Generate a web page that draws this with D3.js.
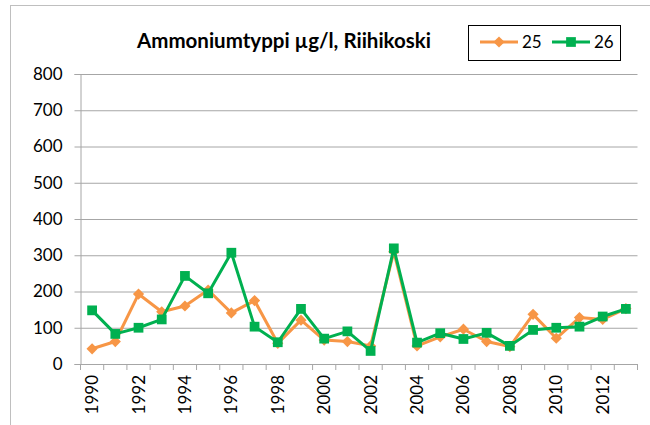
<!DOCTYPE html>
<html>
<head>
<meta charset="utf-8">
<script src="https://cdn.jsdelivr.net/npm/d3@7"></script>
<style>
  body { margin: 0; background: #fff; }
  svg text { font-family: Lato, "Liberation Sans", sans-serif; fill: #000; }
</style>
</head>
<body>
<svg id="chart" width="650" height="425"></svg>
<script>
/* data */
var years = d3.range(1990, 2014);
var s25 = [42, 62, 193, 144, 160, 204, 141, 175, 57, 121, 66, 62, 50,
           310, 50, 75, 96, 62, 48, 137, 71, 128, 123, 153];
var s26 = [148, 83, 100, 123, 243, 195, 307, 103, 60, 152, 70, 90, 36,
           319, 59, 85, 69, 86, 50, 94, 100, 103, 131, 152];
var yTicks = [0, 100, 200, 300, 400, 500, 600, 700, 800];
var xLabels = years.filter(function (d) { return d % 2 === 0; });

var title = "Ammoniumtyppi \u00b5g/l, Riihikoski";
var series = [
  { name: "25", values: s25, color: "#F79646", shape: "diamond" },
  { name: "26", values: s26, color: "#00B050", shape: "square" }
];

var svg = d3.select("#chart");
var margin = { left: 80.5, right: 12.5, top: 74, bottom: 61 };
var W = 650, H = 425;
var iw = W - margin.left - margin.right,
    ih = H - margin.top - margin.bottom;

/* outer chart border */
svg.append("rect")
  .attr("x", 10.5).attr("y", 5.5)
  .attr("width", 700).attr("height", 500)
  .attr("fill", "none").attr("stroke", "#bfbfbf");

var g = svg.append("g")
  .attr("transform", "translate(" + margin.left + "," + margin.top + ")");

var x = d3.scaleBand().domain(years).range([0, iw]);
var y = d3.scaleLinear().domain([0, 800]).range([ih, 0]);

/* grid + y axis */
var yAxis = d3.axisLeft(y).tickValues(yTicks).tickSize(6).tickPadding(12);
var yG = g.append("g").attr("class", "y-axis").call(yAxis);
yG.select(".domain").attr("stroke", "#a6a6a6");
yG.selectAll(".tick line").attr("stroke", "#a6a6a6")
  .attr("x1", -6).attr("x2", iw);
yG.selectAll(".tick text").style("font-size", "17px");

/* x axis */
var xAxis = d3.axisBottom(x).tickSize(0).tickFormat("");
var xG = g.append("g").attr("transform", "translate(0," + ih + ")").call(xAxis);
xG.select(".domain").attr("stroke", "#a6a6a6");

g.append("g").selectAll("line")
  .data(years.concat([2014]))
  .join("line")
  .attr("x1", function (d) { return d === 2014 ? iw : x(d); })
  .attr("x2", function (d) { return d === 2014 ? iw : x(d); })
  .attr("y1", ih).attr("y2", ih + 6)
  .attr("stroke", "#a6a6a6");

g.append("g").selectAll("text")
  .data(xLabels)
  .join("text")
  .attr("transform", function (d) {
    return "translate(" + (x(d) + x.bandwidth() / 2 + 6) + "," + (ih + 11) + ") rotate(-90)";
  })
  .attr("text-anchor", "end")
  .style("font-size", "17px")
  .text(function (d) { return d; });

/* lines and markers */
var line = d3.line()
  .x(function (d, i) { return x(years[i]) + x.bandwidth() / 2; })
  .y(function (d) { return y(d); });

series.forEach(function (s) {
  g.append("path")
    .datum(s.values)
    .attr("fill", "none")
    .attr("stroke", s.color)
    .attr("stroke-width", 3)
    .attr("stroke-linejoin", "round")
    .attr("d", line);

  var sym = s.shape === "diamond"
    ? d3.symbol().type(d3.symbolDiamond2).size(80)
    : d3.symbol().type(d3.symbolSquare).size(95);

  g.append("g").selectAll("path")
    .data(s.values)
    .join("path")
    .attr("transform", function (d, i) {
      return "translate(" + (x(years[i]) + x.bandwidth() / 2) + "," + y(d) + ")";
    })
    .attr("d", sym)
    .attr("fill", s.color);
});

/* title */
svg.append("text")
  .attr("x", 284).attr("y", 48)
  .attr("text-anchor", "middle")
  .style("font-size", "20.5px")
  .style("font-weight", "bold")
  .text(title);

/* legend */
var lg = svg.append("g");
lg.append("rect")
  .attr("x", 468.5).attr("y", 25.5)
  .attr("width", 152).attr("height", 35)
  .attr("fill", "#fff").attr("stroke", "#000");

series.forEach(function (s, i) {
  var lx = 480 + i * 72;
  lg.append("line")
    .attr("x1", lx).attr("x2", lx + 38)
    .attr("y1", 42).attr("y2", 42)
    .attr("stroke", s.color).attr("stroke-width", 3);
  var sym = s.shape === "diamond"
    ? d3.symbol().type(d3.symbolDiamond2).size(80)
    : d3.symbol().type(d3.symbolSquare).size(95);
  lg.append("path")
    .attr("transform", "translate(" + (lx + 19) + ",42)")
    .attr("d", sym).attr("fill", s.color);
  lg.append("text")
    .attr("x", lx + 42).attr("y", 48)
    .style("font-size", "17px")
    .text(s.name);
});
</script>
</body>
</html>
